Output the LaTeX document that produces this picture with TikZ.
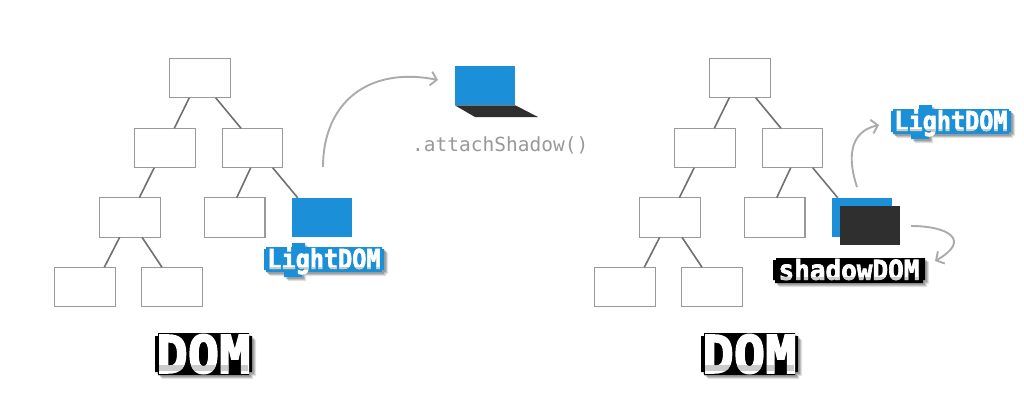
\documentclass[tikz,border=0pt]{standalone}
\usepackage{fontspec}
\usetikzlibrary{arrows.meta,calc}
\newfontfamily\pixfont[BoldFeatures={FakeBold=2.6}]{DejaVu Sans Mono}
\newfontfamily\pixheavy[BoldFeatures={FakeBold=3.2}]{DejaVu Sans Mono}
\newfontfamily\codefont{DejaVu Sans Mono}
\definecolor{domblue}{HTML}{1B8FD8}
\definecolor{domdark}{HTML}{2F2F2F}
\definecolor{edgegrey}{HTML}{707070}
\definecolor{boxgrey}{HTML}{999999}
\definecolor{curvegrey}{HTML}{ABABAB}
\tikzset{
  treebox/.style={draw=boxgrey,line width=1.3pt,fill=white,minimum width=60.5pt,minimum height=39.5pt,inner sep=0pt,outer sep=0pt},
  bluebox/.style={fill=domblue,minimum width=60.5pt,minimum height=39.5pt,inner sep=0pt,outer sep=0pt},
  darkbox/.style={fill=domdark,minimum width=60.5pt,minimum height=39.5pt,inner sep=0pt,outer sep=0pt},
  edge/.style={draw=edgegrey,line width=1.6pt},
  curve/.style={draw=curvegrey,line width=1.9pt,-{Straight Barb[length=6pt,width=14pt,line width=1.9pt]}},
  pixtext/.style={text=white,inner sep=0pt,outer sep=0pt,font=\pixfont\bfseries},
}
% tree: prefix, x offset
\newcommand{\domtree}[2]{%
  \begin{scope}[xshift=#2pt]
    \node[treebox] (#1a) at (200,78) {};
    \node[treebox] (#1b) at (165,148) {};
    \node[treebox] (#1c) at (252.5,148) {};
    \node[treebox] (#1d) at (130,217.5) {};
    \node[treebox] (#1e) at (234.7,217.5) {};
    \node[treebox] (#1f) at (85,287) {};
    \node[treebox] (#1g) at (172,287) {};
    \node[bluebox] (#1h) at (322,217.5) {};
    \draw[edge] ([xshift=-10.7pt]#1a.south) -- ([xshift=9.3pt]#1b.north);
    \draw[edge] ([xshift=15.7pt]#1a.south) -- ([xshift=-11.5pt]#1c.north);
    \draw[edge] ([xshift=-10.8pt]#1b.south) -- ([xshift=9.3pt]#1d.north);
    \draw[edge] ([xshift=-1.8pt]#1c.south) -- ([xshift=2pt]#1e.north);
    \draw[edge] ([xshift=20.2pt]#1c.south) -- ([xshift=-24.3pt]#1h.north);
    \draw[edge] ([xshift=-10.3pt]#1d.south) -- ([xshift=19.3pt]#1f.north);
    \draw[edge] ([xshift=12pt]#1d.south) -- ([xshift=-10pt]#1g.north);
  \end{scope}%
}
% soft shadow under a stored outline path
\newcommand{\softshadow}[1]{%
  \foreach \s/\o in {4/.10,3/.14,2/.18}{
    \fill[black,opacity=\o,shift={(\s pt,-\s pt)}] #1;
  }%
}
% outline polygons
\def\lightpoly{(0,6) -- (2,6) -- (2,4) -- (28,4) -- (28,0) -- (41,0) -- (41,4) -- (118,4) -- (118,6) -- (120,6) -- (120,27) -- (118,27) -- (118,29) -- (38,29) -- (38,34) -- (20,34) -- (20,29) -- (2,29) -- (2,27) -- (0,27) -- cycle}
\def\shadowpoly{(0,6) -- (3,6) -- (3,4) -- (152,4) -- (152,6) -- (152,26) -- (150,26) -- (150,29) -- (2,29) -- (2,26) -- (0,26) -- cycle}
\def\dompoly{(0,3) -- (3,3) -- (3,0) -- (94,0) -- (94,3) -- (97,3) -- (97,39) -- (94,39) -- (94,42) -- (3,42) -- (3,39) -- (0,39) -- cycle}
\newcommand{\pixlabel}[9]{%
  \begin{scope}[shift={(#2,#3)}]
    \softshadow{#4}
    \fill[#5] #4;
    \node[pixtext,#6] (#1) at (#8) {#7};
    \begin{scope}[blend mode=darken]
      \fill[black!20] #9;
    \end{scope}
  \end{scope}%
}
\begin{document}
\begin{tikzpicture}[x=1pt,y=-1pt]
\useasboundingbox (0,0) rectangle (1024,400);
\fill[white] (0,0) rectangle (1024,400);
\domtree{l}{0}
\domtree{r}{540}
\node[darkbox] (rdark) at (870,225.5) {};
% attachShadow figure
\node[bluebox] (hostbox) at (485,85.5) {};
\fill[domdark] (hostbox.south west) -- (hostbox.south east) -- (538,117) -- (475,117) -- cycle;
\node[text=boxgrey,inner sep=0pt,anchor=base west,font=\codefont\fontsize{19.5}{22}\selectfont] (attach) at (412,151) {.attachShadow()};
% labels
\pixlabel{lightl}{264}{243}{\lightpoly}{domblue}{xscale=1,yscale=1.15,transform shape,font=\pixfont\bfseries\fontsize{23.5}{24}\selectfont}{LightDOM}{60,17.5}{(4,24) rectangle (116,27)}
\pixlabel{lightr}{891}{105}{\lightpoly}{domblue}{xscale=1,yscale=1.15,transform shape,font=\pixfont\bfseries\fontsize{23.5}{24}\selectfont}{LightDOM}{60,17.5}{(4,24) rectangle (116,27)}
\pixlabel{shadow}{773}{254}{\shadowpoly}{black}{xscale=1,yscale=1.05,transform shape,font=\pixfont\bfseries\fontsize{26}{26}\selectfont}{shadowDOM}{76,15.5}{(4,23) rectangle (148,26)}
\pixlabel{doml}{155}{333}{\dompoly}{black}{font=\pixheavy\bfseries\fontsize{52}{52}\selectfont}{DOM}{48.5,21}{(4,32) rectangle (93,38)}
\pixlabel{domr}{701}{333}{\dompoly}{black}{font=\pixheavy\bfseries\fontsize{52}{52}\selectfont}{DOM}{48.5,21}{(4,32) rectangle (93,38)}
% curves
\coordinate (c1s) at (323,167);
\coordinate (c2s) at (857,187);
\coordinate (c3s) at (911,226);
\draw[curve] (c1s) .. controls (323,103) and (368,66) .. (438,80);
\draw[curve] (c2s) .. controls (848,160) and (848,132) .. (879,125);
\draw[curve] (c3s) .. controls (948,226) and (972,240) .. (935,261);
\end{tikzpicture}
\end{document}
